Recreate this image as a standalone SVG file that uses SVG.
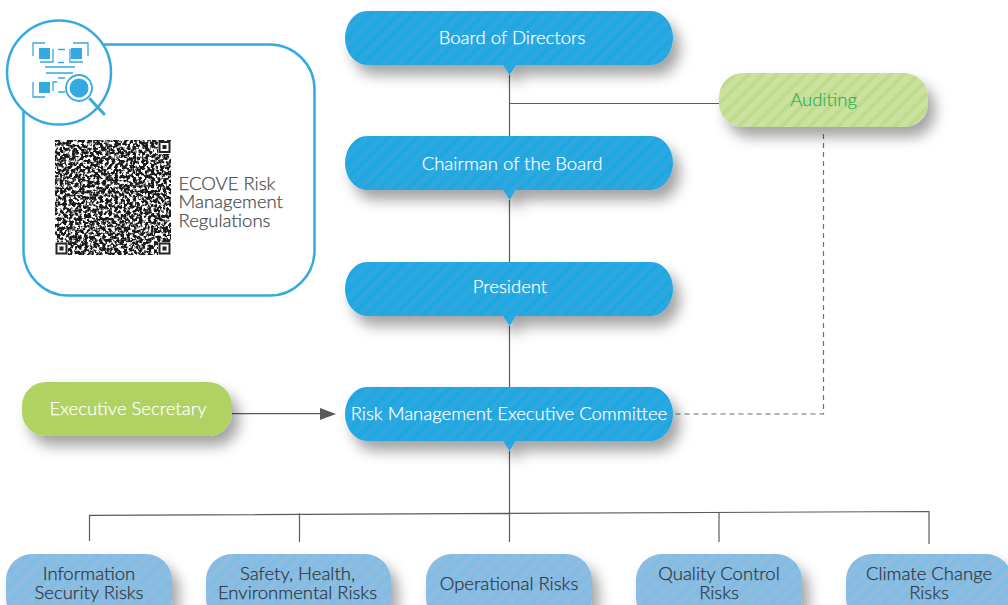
<svg xmlns="http://www.w3.org/2000/svg" width="1008" height="605" viewBox="0 0 1008 605">
<style>
text{font-family:"Lato","Open Sans","Liberation Sans",sans-serif;font-size:18.500px;font-weight:300;text-anchor:middle;stroke-width:.25px}
.w{fill:#fff;stroke:#fff}.d{fill:#2f3740;stroke:#2f3740}
.g{fill:#4a4b4d;stroke:#4a4b4d;text-anchor:start}
.a{fill:#2fb455;stroke:#2fb455}
.ln{fill:none;stroke:#5a5b5d;stroke-width:1.200}
.ic{fill:none;stroke:#35a9e1;stroke-width:1.300}
.if{fill:#35a9e1}
.fd{fill:none;stroke:#222;stroke-width:2}
</style>
<defs>
<pattern id="sb" width="10" height="10" patternUnits="userSpaceOnUse" patternTransform="rotate(45)"><rect width="10" height="10" fill="#2fa6df"/><rect width="4" height="10" fill="#1ca8e1"/></pattern>
<pattern id="sg" width="10" height="10" patternUnits="userSpaceOnUse" patternTransform="rotate(45)"><rect width="10" height="10" fill="#cbe1a0"/><rect width="4" height="10" fill="#bfdc8c"/></pattern>
<pattern id="sl" width="10" height="10" patternUnits="userSpaceOnUse" patternTransform="rotate(45)"><rect width="10" height="10" fill="#8dbcdf"/><rect width="4" height="10" fill="#80bce6"/></pattern>
<filter id="sh" x="-15%" y="-40%" width="135%" height="220%"><feDropShadow dx="7" dy="10" stdDeviation="7" flood-color="#000" flood-opacity=".36"/></filter>
<filter id="noise" x="0" y="0" width="100%" height="100%" color-interpolation-filters="sRGB"><feTurbulence type="fractalNoise" baseFrequency=".33" numOctaves="2" seed="7"/><feColorMatrix values="0 0 0 0 0 0 0 0 0 0 0 0 0 0 0 5 5 0 0 -4.300"/><feGaussianBlur stdDeviation=".6"/><feComponentTransfer><feFuncR type="linear" slope="0" intercept=".1"/><feFuncG type="linear" slope="0" intercept=".1"/><feFuncB type="linear" slope="0" intercept=".1"/></feComponentTransfer></filter>
</defs>
<g id="regulations-panel">
<rect x="23.500" y="44.500" width="291" height="251" rx="45" fill="#fff" stroke="#35a9e1" stroke-width="2.500"/>
<circle cx="59" cy="72.500" r="52" fill="#fff" stroke="#35a9e1" stroke-width="2.500"/>
<g id="qr-icon">
<path class="ic" d="M45 43H33V56M73 43H88V56M33 82V97H45M58 49.500H65M58 62.500H64M40 62H53V49M70 49V62H83M45 67H75M46 73H73M58 78H65M58 92H65M57 82H53V91"/>
<rect class="if" x="39" y="48" width="11" height="11"/><rect class="if" x="71" y="48" width="11" height="11"/><rect class="if" x="39" y="82" width="11" height="11"/>
<circle cx="79" cy="88" r="13" fill="#fff" stroke="#35a9e1" stroke-width="1.800"/><circle class="if" cx="79" cy="88" r="9.500"/>
<path d="M90 99L104 114" fill="none" stroke="#35a9e1" stroke-width="3" stroke-linecap="round"/>
</g>
<g id="qr-code">
<rect x="55" y="140" width="116" height="115" fill="#fff"/>
<rect x="55" y="140" width="116" height="115" filter="url(#noise)"/>
<g fill="#fff"><rect x="158" y="141" width="13" height="13"/><rect x="55" y="242" width="13" height="13"/><rect x="158" y="242" width="13" height="13"/></g>
<rect class="fd" x="159.500" y="142" width="10" height="10"/><rect x="162.500" y="145" width="4" height="4" fill="#222"/>
<rect class="fd" x="56.500" y="243.500" width="10" height="10"/><rect x="59.500" y="246.500" width="4" height="4" fill="#222"/>
<rect class="fd" x="159.500" y="243.500" width="10" height="10"/><rect x="162.500" y="246.500" width="4" height="4" fill="#222"/>
</g>
<text class="g"><tspan x="178.500" y="190">ECOVE Risk</tspan><tspan x="178.500" y="208">Management</tspan><tspan x="178.500" y="227">Regulations</tspan></text>
</g>
<g id="connectors">
<path class="ln" d="M509.500 75V136M509.500 200V262M509.500 326V387M509.500 451V512M509.500 103.500H719"/>
<path class="ln" d="M89.500 541V515.300L929 511.500V544M299.500 513.600V542M509.500 512V542M719 512V542"/>
<path d="M823.500 134V414H673" fill="none" stroke="#6d6e70" stroke-width="1.200" stroke-dasharray="5 4"/>
<path class="ln" d="M232 413.700H322"/>
<path d="M320 408L336 414L320 420Z" fill="#58595b"/>
</g>
<g id="board-of-directors"><path filter="url(#sh)" fill="url(#sb)" d="M367 11H651A22 27 0 0 1 651 65H516L509.500 75L503 65H367A22 27 0 0 1 367 11Z"/><text class="w" x="512" y="43.500">Board of Directors</text></g>
<g id="chairman"><path filter="url(#sh)" fill="url(#sb)" d="M367 136H651A22 27 0 0 1 651 190H516L509.500 200L503 190H367A22 27 0 0 1 367 136Z"/><text class="w" x="512" y="169.500">Chairman of the Board</text></g>
<g id="president"><path filter="url(#sh)" fill="url(#sb)" d="M367 262H651A22 27 0 0 1 651 316H516L509.500 326L503 316H367A22 27 0 0 1 367 262Z"/><text class="w" x="510" y="292.500">President</text></g>
<g id="risk-committee"><path filter="url(#sh)" fill="url(#sb)" d="M367 387H651A22 27 0 0 1 651 441H516L509.500 451L503 441H367A22 27 0 0 1 367 387Z"/><text class="w" x="509" y="419.500">Risk Management Executive Committee</text></g>
<g id="auditing"><rect x="719" y="73" width="209" height="54" rx="24" fill="url(#sg)" filter="url(#sh)"/><text class="a" x="823.500" y="105.500">Auditing</text></g>
<g id="executive-secretary"><rect x="22" y="382" width="210" height="54" rx="24" fill="#afd263" filter="url(#sh)"/><text class="w" x="128" y="414.500">Executive Secretary</text></g>
<g id="info-security"><rect x="6" y="554" width="166" height="70" rx="26" fill="url(#sl)" filter="url(#sh)"/><text class="d"><tspan x="89" y="579.500">Information</tspan><tspan x="89" y="598.500">Security Risks</tspan></text></g>
<g id="safety-health"><rect x="206" y="554" width="185" height="70" rx="26" fill="url(#sl)" filter="url(#sh)"/><text class="d"><tspan x="297.500" y="579.500">Safety, Health,</tspan><tspan x="297.500" y="598.500">Environmental Risks</tspan></text></g>
<g id="operational"><rect x="426" y="554" width="166" height="70" rx="26" fill="url(#sl)" filter="url(#sh)"/><text class="d" x="509" y="589.500">Operational Risks</text></g>
<g id="quality-control"><rect x="636" y="554" width="166" height="70" rx="26" fill="url(#sl)" filter="url(#sh)"/><text class="d"><tspan x="719" y="579.500">Quality Control</tspan><tspan x="719" y="598.500">Risks</tspan></text></g>
<g id="climate-change"><rect x="846" y="554" width="166" height="70" rx="26" fill="url(#sl)" filter="url(#sh)"/><text class="d"><tspan x="929" y="579.500">Climate Change</tspan><tspan x="929" y="598.500">Risks</tspan></text></g>
</svg>
